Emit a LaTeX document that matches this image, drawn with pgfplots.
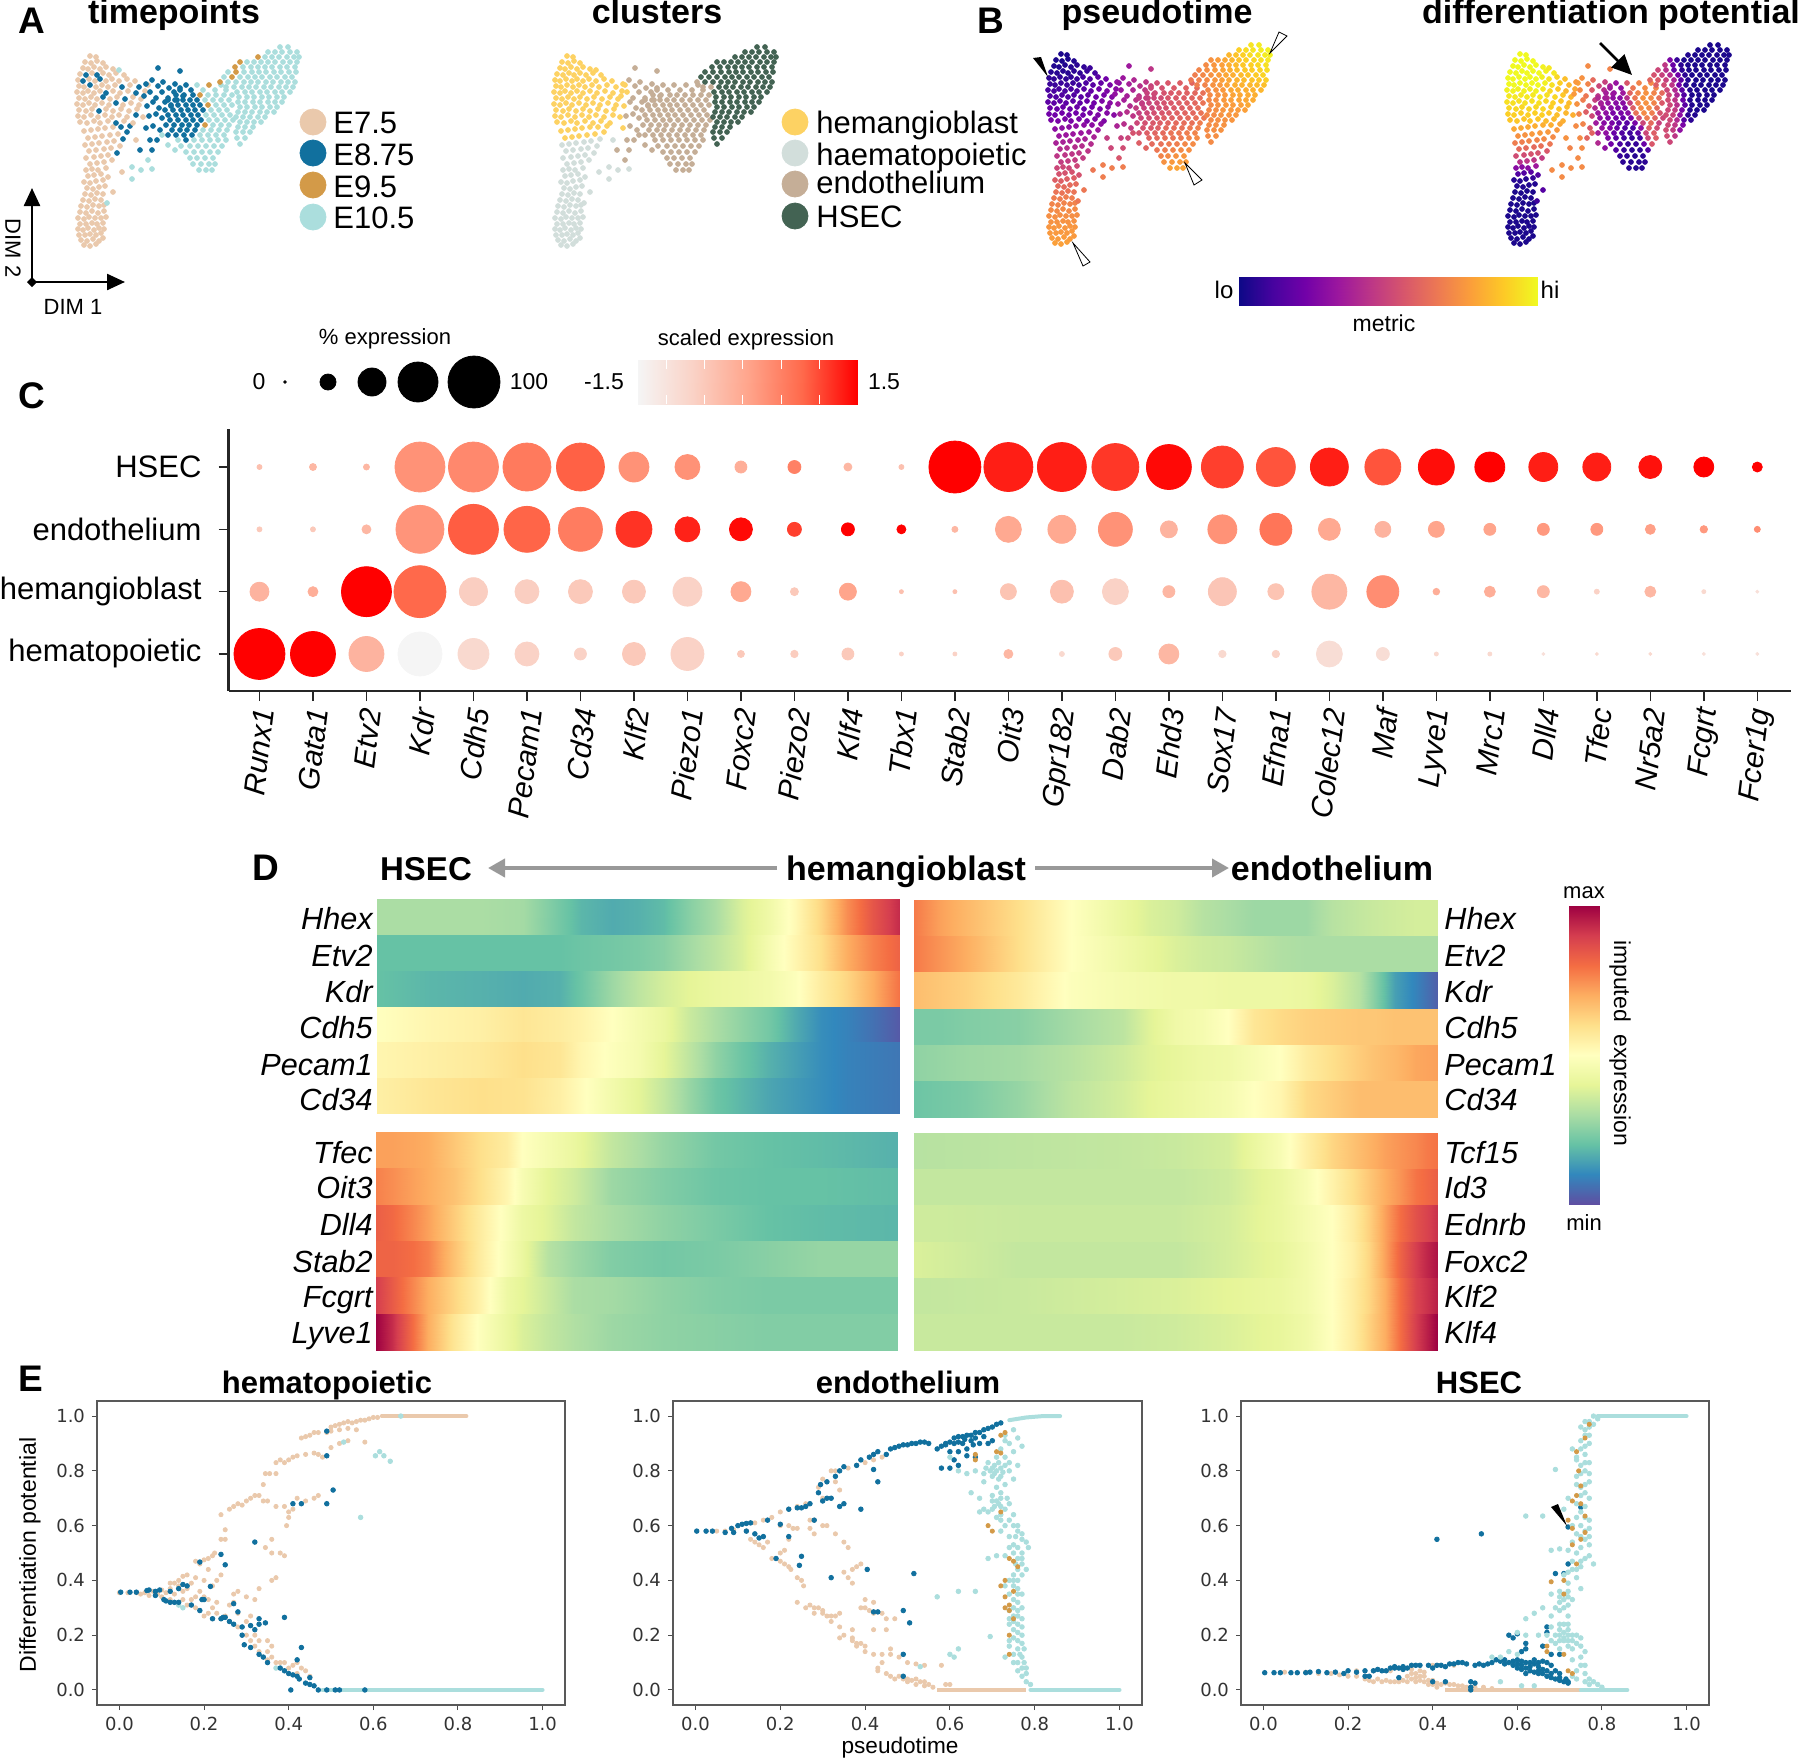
\documentclass[border=0pt]{standalone}
\usepackage{fontspec}
\usepackage{pgfplots}
\usepackage{pgfplotstable}
\pgfplotsset{compat=1.18}
\usetikzlibrary{arrows.meta}
\setmainfont{Liberation Sans}
\newfontfamily\dejavu{DejaVu Sans}
\newcommand\fs[1]{\fontsize{#1}{#1}\selectfont}
\definecolor{ctan}{HTML}{EAC9AC}
\definecolor{cblue}{HTML}{11709E}
\definecolor{corange}{HTML}{D39A48}
\definecolor{clight}{HTML}{ABDEDD}
\definecolor{chema}{HTML}{FDD263}
\definecolor{chaem}{HTML}{D2DEDB}
\definecolor{cendo}{HTML}{C5AE97}
\definecolor{chsec}{HTML}{436353}
\pgfplotsset{
 colormap={plasma}{rgb255=(13,8,135) rgb255=(70,3,159) rgb255=(114,1,168) rgb255=(156,23,158) rgb255=(189,55,134) rgb255=(216,87,107) rgb255=(237,121,83) rgb255=(251,159,58) rgb255=(253,202,38) rgb255=(240,249,33)},
 colormap={spectral}{rgb255=(94,79,162) rgb255=(50,136,189) rgb255=(102,194,165) rgb255=(171,221,164) rgb255=(230,245,152) rgb255=(255,255,191) rgb255=(254,224,139) rgb255=(253,174,97) rgb255=(244,109,67) rgb255=(213,62,79) rgb255=(158,1,66)},
 colormap={reds}{rgb255=(245,245,245) rgb255=(250,210,198) rgb255=(255,165,140) rgb255=(255,105,75) rgb255=(255,0,0)},
 place/.style n args={4}{scale only axis,anchor=north west,at={(#1*0.5pt,-#2*0.5pt)},width=#3*0.5pt,height=#4*0.5pt},
 heat/.style={hide axis,view={0}{90},xmin=0,xmax=1,ymin=0,ymax=6,zmin=-1,zmax=1,y dir=reverse,colormap name=spectral,point meta min=0,point meta max=100},
 tanp/.style={only marks,mark=*,mark size=1.05pt,color=ctan,mark options={draw=none,fill=ctan}},
 bluep/.style={only marks,mark=*,mark size=1.15pt,color=cblue,mark options={draw=none,fill=cblue}},
 orap/.style={only marks,mark=*,mark size=1.05pt,color=corange,mark options={draw=none,fill=corange}},
 ligp/.style={only marks,mark=*,mark size=1.15pt,color=clight,mark options={draw=none,fill=clight}},
 eax/.style={xmin=-0.053,xmax=1.053,ymin=-0.055,ymax=1.055,xtick={0,0.2,0.4,0.6,0.8,1},ytick={0,0.2,0.4,0.6,0.8,1},
   xtick pos=bottom,ytick pos=left,tick align=outside,major tick length=2.5pt,tick style={color=black!70,line width=0.5pt},
   axis line style={color=black!65,line width=0.8pt},
   tick label style={font=\dejavu\fs{9},color=black!80},
   /pgf/number format/.cd,fixed,fixed zerofill,precision=1,assume math mode=true},
}
% x y in panel A pixels, timepoint, cluster, pseudotime, potential
\pgfplotstableread{
x y t c p d
84 245 0 1 78 3
90 246 0 1 78 3
96 244 0 1 78 3
81 240 0 1 77 3
87 241 0 1 77 3
93 239 0 1 77 3
99 241 0 1 77 3
103 238 0 1 76 3
79 235 0 1 76 3
85 235 0 1 76 3
90 234 0 1 76 3
96 235 0 1 76 3
101 233 0 1 76 3
78 229 0 1 75 3
83 230 0 1 75 3
88 228 0 1 75 3
94 230 0 1 75 3
99 228 0 1 75 3
104 229 0 1 75 3
80 224 0 1 74 3
86 224 0 1 74 3
92 223 0 1 74 3
97 224 0 1 74 3
103 223 0 1 74 3
78 218 0 1 73 3
84 219 0 1 73 3
89 217 0 1 73 3
95 218 0 1 73 3
101 218 0 1 73 3
106 217 0 1 73 3
80 212 0 1 72 3
86 213 0 1 72 3
92 211 0 1 72 3
98 213 0 1 72 3
104 211 0 1 72 3
81 206 0 1 70 3
87 207 0 1 70 3
93 205 0 1 70 3
99 206 0 1 70 3
104 205 0 1 70 3
83 200 0 1 68 3
89 201 0 1 68 3
95 199 0 1 68 3
101 200 0 1 68 3
85 194 0 1 65 3
91 195 0 1 65 3
97 193 0 1 65 3
103 194 0 1 65 3
87 188 0 1 62 4
93 189 0 1 62 4
99 187 0 1 62 4
105 186 0 1 62 4
84 182 0 1 58 5
90 183 0 1 58 5
96 181 0 1 58 5
103 180 0 1 58 8
88 176 0 1 54 14
94 175 0 1 54 14
101 174 0 1 54 16
108 177 0 1 54 14
86 170 0 1 50 28
92 169 0 1 50 28
98 170 0 1 50 28
106 168 0 1 50 34
90 164 0 1 46 42
97 163 0 1 46 44
104 162 0 1 46 44
112 160 0 1 46 46
86 158 0 1 44 52
94 157 0 1 44 52
101 156 0 1 44 54
108 155 0 1 44 54
117 153 1 1 44 56
89 151 0 1 41 62
96 150 0 1 41 62
104 149 0 1 41 62
111 148 0 1 41 64
120 146 0 1 41 66
85 145 0 1 37 68
92 144 0 1 37 68
99 143 0 1 37 70
107 142 0 1 37 70
114 141 0 1 37 72
123 139 1 1 37 72
88 138 0 0 33 74
95 137 0 0 33 74
102 136 0 0 33 76
110 135 0 0 33 76
118 134 0 0 33 76
127 132 1 0 33 76
84 131 0 0 29 80
91 130 0 0 29 80
98 129 0 0 29 80
105 128 0 0 29 82
113 127 0 0 29 82
121 127 1 0 29 82
130 126 1 0 29 80
132 167 3 1 68 72
141 170 3 1 68 72
152 169 3 1 68 72
132 179 3 1 68 72
122 172 0 1 66 72
113 192 0 1 66 15
107 203 3 1 66 10
80 122 0 0 24 88
87 123 0 0 24 88
94 121 0 0 24 88
100 123 0 0 24 88
108 121 0 0 24 88
116 123 1 0 24 85
124 121 0 0 25 85
133 123 0 0 26 82
78 116 0 0 22 90
84 117 0 0 22 90
91 115 0 0 22 90
98 117 0 0 22 90
105 115 0 0 22 90
112 117 0 0 22 90
119 115 0 0 24 88
127 117 0 0 25 86
136 115 1 0 27 84
143 117 0 0 28 82
79 110 0 0 20 92
86 111 0 0 20 92
92 109 0 0 20 92
99 111 1 0 20 92
106 109 0 0 20 92
113 111 0 0 20 92
121 109 0 0 22 90
129 111 0 0 24 88
137 109 0 0 26 86
77 104 0 0 17 94
83 105 0 0 17 94
89 103 0 0 17 94
95 105 0 0 17 94
102 103 0 0 17 94
109 105 0 0 18 94
116 103 1 0 20 92
123 105 0 0 22 90
131 103 0 0 25 88
139 105 0 0 28 85
79 98 0 0 14 96
85 99 0 0 14 96
91 97 0 0 14 96
97 99 0 0 14 96
103 97 1 0 14 96
110 99 0 0 16 96
117 97 0 0 18 94
125 99 1 0 21 92
133 97 0 0 24 88
141 99 0 0 27 84
77 92 0 0 12 98
83 93 0 0 12 98
88 91 0 0 12 98
94 93 0 0 12 98
100 91 0 0 12 98
106 93 1 0 14 98
113 91 0 0 16 96
120 93 0 0 19 92
128 91 0 0 22 88
136 93 1 0 25 84
145 91 0 0 28 80
79 86 0 0 9 100
84 87 0 0 9 100
90 85 1 0 9 100
96 87 0 0 9 100
102 85 0 0 9 100
108 87 0 0 10 100
115 85 0 0 13 98
122 87 1 0 16 94
130 85 0 0 19 90
139 87 1 0 24 84
148 85 0 0 29 78
78 80 0 0 7 100
83 81 1 0 7 100
89 79 0 0 7 100
95 81 0 0 7 100
100 79 1 0 7 100
106 81 0 0 9 100
112 79 0 0 11 98
119 81 0 0 14 95
127 79 0 0 17 92
135 81 0 0 22 86
80 74 0 0 5 100
86 75 1 0 5 100
92 73 0 0 5 100
97 75 1 0 5 100
103 73 0 0 6 100
109 75 0 0 7 100
116 73 0 0 9 98
124 75 0 0 11 96
83 68 0 0 4 100
88 69 0 0 4 100
94 67 0 0 4 100
100 69 0 0 5 100
106 67 0 0 6 100
113 69 0 0 7 98
85 62 0 0 3 100
91 63 0 0 3 100
97 61 0 0 3 100
103 63 0 0 4 100
90 56 0 0 3 100
96 57 0 0 3 100
119 70 3 0 9 96
158 68 1 2 34 72
180 71 1 2 44 70
146 84 1 0 31 76
152 80 1 2 33 74
158 86 1 2 36 70
163 82 1 2 39 62
169 88 1 2 42 50
175 84 1 2 44 48
144 96 1 0 31 76
150 92 1 0 33 72
156 98 1 2 36 66
162 92 1 2 39 56
168 98 1 2 43 44
174 92 1 2 45 42
180 88 1 2 48 38
147 106 1 0 34 74
153 102 1 2 36 68
159 108 1 2 40 58
165 102 1 2 43 48
171 106 1 2 46 42
177 100 1 2 48 38
183 96 1 2 50 35
149 116 1 2 38 70
156 114 1 2 42 58
162 118 1 2 44 50
146 128 1 0 38 72
153 126 1 2 42 70
160 130 1 2 46 55
150 140 1 2 48 72
157 140 1 2 50 60
140 150 1 2 50 70
152 150 1 2 52 72
136 140 0 1 46 74
148 160 3 2 55 72
186 85 1 2 52 32
197 85 3 2 56 55
209 85 2 2 58 70
221 85 3 2 60 72
180 90 1 2 50 34
191 90 1 2 54 30
203 90 3 2 57 66
215 90 3 2 59 72
226 90 3 2 62 70
176 95 1 2 48 36
184 95 1 2 51 32
193 95 1 2 54 34
200 95 2 2 56 60
208 95 3 2 58 70
216 95 3 2 59 74
224 95 3 2 61 70
232 95 3 2 64 62
168 100 1 2 45 40
175 100 1 2 47 36
183 100 1 2 50 30
190 100 1 2 52 28
197 100 1 2 55 42
205 100 3 2 57 66
213 100 3 2 58 74
221 100 3 2 60 72
229 100 3 2 63 64
171 105 1 2 46 36
178 105 1 2 49 32
186 105 1 2 51 28
193 105 1 2 54 28
200 105 1 2 56 48
208 105 2 2 58 70
216 105 3 2 59 74
224 105 3 2 61 70
232 105 3 2 65 56
165 110 1 2 46 40
173 110 1 2 48 32
181 110 1 2 50 28
188 110 1 2 52 26
195 110 1 2 54 26
203 110 1 2 57 58
211 110 3 2 58 72
219 110 3 2 60 72
227 110 3 2 63 62
168 115 1 2 47 34
176 115 1 2 50 30
183 115 1 2 53 24
191 115 1 2 55 24
198 115 1 2 57 28
206 115 3 2 59 64
214 115 3 2 60 72
222 115 3 2 61 68
230 115 3 2 65 54
170 120 1 2 50 30
178 120 1 2 52 26
186 120 1 2 55 22
193 120 1 2 58 20
201 120 1 2 59 24
209 120 3 2 60 52
217 120 3 2 62 68
225 120 3 2 64 60
233 120 3 2 66 50
166 125 1 2 50 34
174 125 1 2 53 28
182 125 1 2 56 24
189 125 1 2 58 18
197 125 1 2 60 16
205 125 2 2 62 24
213 125 3 2 63 50
221 125 3 2 64 62
229 125 3 2 68 48
172 130 1 2 54 32
180 130 1 2 56 26
187 130 1 2 58 20
195 130 1 2 62 14
203 130 3 2 63 12
211 130 3 2 64 30
219 130 3 2 67 58
227 130 3 2 69 52
168 135 1 2 54 36
176 135 1 2 58 30
184 135 1 2 60 20
192 135 1 2 62 14
200 135 3 2 65 10
208 135 3 2 66 16
216 135 3 2 68 50
224 135 3 2 70 58
178 140 3 2 60 26
186 140 1 2 62 16
194 140 3 2 64 10
202 140 3 2 65 8
210 140 3 2 67 10
218 140 3 2 70 50
226 140 3 2 72 58
181 146 3 2 62 22
190 146 3 2 64 12
198 146 3 2 67 8
206 146 3 2 68 8
214 146 3 2 71 20
222 146 3 2 72 56
186 152 3 2 66 14
194 152 3 2 68 8
202 152 3 2 70 6
210 152 3 2 72 6
218 152 3 2 73 14
190 158 3 2 70 8
197 158 3 2 72 6
205 158 3 2 74 5
213 158 3 2 75 6
193 164 3 2 74 6
201 164 3 2 76 5
209 164 3 2 77 5
215 164 3 2 77 6
199 170 3 2 78 5
206 170 3 2 79 4
212 170 3 2 79 5
175 150 3 2 60 30
168 145 3 2 58 40
162 135 3 2 54 60
280 47 3 3 95 3
288 47 3 3 97 3
268 52 3 3 90 3
275 52 3 3 93 3
282 52 3 3 95 3
290 52 3 3 97 3
297 52 3 3 98 3
258 57 2 3 84 4
265 57 3 3 87 3
272 57 3 3 90 3
279 57 3 3 93 3
287 57 3 3 95 3
294 57 3 3 97 3
299 57 3 3 98 3
240 62 2 3 74 25
247 62 3 3 77 8
254 62 3 3 80 3
261 62 3 3 84 3
268 62 3 3 87 3
275 62 3 3 90 3
283 62 3 3 92 3
290 62 3 3 94 3
297 62 3 3 96 3
235 67 2 3 72 45
243 67 3 3 75 20
251 67 3 3 78 6
258 67 3 3 82 3
265 67 3 3 85 3
272 67 3 3 88 3
280 67 3 3 90 3
287 67 3 3 92 3
295 67 3 3 94 3
228 72 3 3 70 50
236 72 2 3 73 42
244 72 3 3 76 18
252 72 3 3 79 6
259 72 3 3 82 3
266 72 3 3 85 3
274 72 3 3 88 3
281 72 3 3 89 3
289 72 3 3 91 3
296 72 3 3 93 3
224 77 3 3 68 54
232 77 2 3 71 48
240 77 3 3 74 40
248 77 3 3 77 22
255 77 3 3 80 6
262 77 3 3 82 3
270 77 3 3 85 3
277 77 3 3 87 3
285 77 3 3 89 3
292 77 3 3 91 3
220 82 2 2 66 60
228 82 3 3 69 56
236 82 3 3 72 48
244 82 3 3 75 38
251 82 3 3 78 16
258 82 3 3 80 4
266 82 3 3 83 3
273 82 3 3 85 3
281 82 3 3 87 3
288 82 3 3 88 3
295 82 3 3 90 3
226 87 3 2 68 58
234 87 3 2 70 52
242 87 3 3 74 44
249 87 3 3 76 22
256 87 3 3 79 5
264 87 3 3 82 3
271 87 3 3 83 3
279 87 3 3 84 3
286 87 3 3 85 3
293 87 3 3 86 3
237 92 3 3 71 50
245 92 3 3 74 40
252 92 3 3 76 16
260 92 3 3 80 4
267 92 3 3 81 3
275 92 3 3 82 3
282 92 3 3 83 3
290 92 3 3 84 3
239 97 3 3 72 50
247 97 3 3 74 38
254 97 3 3 76 14
262 97 3 3 79 3
269 97 3 3 80 3
277 97 3 3 81 3
284 97 3 3 82 3
238 102 3 3 71 52
245 102 3 3 73 44
253 102 3 3 76 20
260 102 3 3 78 4
268 102 3 3 79 3
275 102 3 3 80 3
282 102 3 3 81 3
240 107 3 3 72 50
247 107 3 3 74 42
255 107 3 3 76 16
262 107 3 3 77 4
270 107 3 3 78 3
277 107 3 3 80 3
238 112 3 3 71 50
245 112 3 3 73 46
252 112 3 3 75 24
260 112 3 3 76 4
267 112 3 3 77 3
274 112 3 3 78 3
236 117 3 3 70 52
243 117 3 3 72 48
250 117 3 3 74 30
258 117 3 3 75 6
265 117 3 3 76 4
240 122 3 3 72 50
247 122 3 3 73 40
254 122 3 3 74 16
261 122 3 3 75 6
238 127 3 3 72 50
245 127 3 3 73 44
253 127 3 3 74 24
236 132 3 3 72 52
243 132 3 3 73 46
250 132 3 3 74 30
237 138 3 3 72 52
245 138 3 3 73 44
240 144 3 3 72 50
}\emb

% dot plot: gene index, then radius in pixels and colour for each row
\pgfplotstableread{
i rH cH rE cE rA cA rP cP
0 2.5 35 2.5 30 9.5 42 25.5 100
1 3.5 40 2.5 30 5 45 22.5 100
2 3 40 4.5 40 25 100 17.5 42
3 25 58 24 57 26 75 22 0
4 25 62 25 78 14 27 15.5 20
5 24 68 23 76 12 27 12 25
6 24 77 22 67 12 30 6 25
7 15 58 18 88 11.5 30 11.5 30
8 12.5 58 12.5 92 14.5 25 16.5 25
9 6 45 11.5 98 10 48 3.5 30
10 6.5 65 7 85 4 30 3.7 28
11 4 40 6.5 100 8.5 50 6 30
12 2.5 35 4.5 100 2 35 2 25
13 26 100 3 40 2 35 2 25
14 24.5 93 13 48 8 33 4.5 40
15 24.5 93 14 48 11.5 35 2.5 20
16 23.5 87 17 58 13 25 6.5 30
17 22.5 98 8.5 42 6 40 10 40
18 21 85 14.5 58 14 32 3.7 20
19 19.5 80 16 70 8 33 3.7 25
20 19 93 11 48 17.5 40 13 17
21 18 80 8 42 16 60 6.5 17
22 18 97 8 50 3.3 45 2 20
23 15 100 6 50 5.5 45 2 20
24 14.5 93 6 55 6 40 1.5 15
25 14 93 6 55 2.5 25 1.5 20
26 11.5 96 5 52 5.5 40 1.5 20
27 10 100 3.7 55 2 20 1.5 15
28 5 100 3 60 1.5 15 1.5 15
}\dotdata

% heat maps: position along pseudotime, then one column per gene
\pgfplotstableread{
x a b c d e f
0 30 20 20 50 53 55
0.1 30 20 18 53 55 58
0.2 30 20 17 55 57 60
0.28 29 20 16 58 60 59
0.35 22 20 17 56 58 55
0.39 18 21 21 54 53 51
0.45 16 22 28 50 49 45
0.5 17 23 33 46 46 40
0.55 19 25 37 42 40 34
0.6 25 29 40 35 33 27
0.65 30 33 42 30 26 21
0.7 38 38 43 26 21 18
0.75 44 46 45 22 17 15
0.8 52 53 49 16 14 13
0.85 62 60 56 11 11 11
0.9 75 70 62 9 9 9
0.95 85 77 70 6 8 8
1 93 82 79 2 7 7
}\hAraw
\pgfplotstableread{
x a b c d e f
0 78 78 67 23 26 21
0.05 72 74 65 23 27 22
0.1 68 70 63 24 28 23
0.2 60 60 57 25 29 27
0.3 50 50 49 29 32 33
0.4 42 44 46 33 36 37
0.45 38 41 45 39 39 40
0.5 36 38 44 44 41 42
0.55 32 36 44 46 43 44
0.6 30 35 43 50 44 46
0.65 28 33 43 58 47 50
0.7 28 31 43 61 50 53
0.75 28 30 42 63 56 61
0.8 32 30 38 64 60 64
0.85 34 30 32 65 64 67
0.88 35 30 25 65 66 67
0.92 36 30 14 66 68 67
0.96 37 30 9 66 71 67
1 37 30 3 66 72 67
}\hBraw
\pgfplotstableread{
x a b c d e f
0 72 77 83 82 90 100
0.03 72 75 81 82 84 93
0.07 71 72 76 80 76 80
0.1 70 70 72 77 70 70
0.15 65 66 64 66 62 58
0.2 60 60 56 56 54 49
0.25 56 53 48 47 43 42
0.28 50 47 43 42 40 38
0.33 46 40 39 32 35 34
0.38 42 36 34 28 30 31
0.45 34 28 30 24 29 28
0.55 27 24 26 22 26 26
0.65 22 21 23 23 24 25
0.75 20 20 20 25 23 24
0.85 19 20 19 27 23 24
1 17 19 18 27 23 24
}\hCraw
\pgfplotstableread{
x a b c d e f
0 32 34 36 38 34 35
0.2 33 34 35 34 35 35
0.4 34 34 35 34 37 35
0.5 35 34 35 34 38 36
0.6 37 36 37 37 40 38
0.7 47 42 42 41 42 41
0.75 55 47 46 45 45 44
0.8 62 54 50 50 50 50
0.84 66 60 56 55 56 56
0.87 69 65 63 62 62 63
0.9 72 70 72 72 70 70
0.93 74 74 80 82 80 80
0.96 76 79 86 90 89 90
0.98 78 81 89 94 92 95
1 79 83 92 97 95 100
}\hDraw
\pgfplotstablevertcat{\hA}{\hAraw}\pgfplotstablevertcat{\hA}{\hAraw}
\pgfplotstablevertcat{\hB}{\hBraw}\pgfplotstablevertcat{\hB}{\hBraw}
\pgfplotstablevertcat{\hC}{\hCraw}\pgfplotstablevertcat{\hC}{\hCraw}
\pgfplotstablevertcat{\hD}{\hDraw}\pgfplotstablevertcat{\hD}{\hDraw}
% corners of the colour bars
\pgfplotstableread{
x y m n
0 0 0 0
1 0 100 0
0 1 0 100
1 1 100 100
}\barcorners

\newcommand\hmrow[4]{\addplot3[surf,shader=interp,mesh/cols=#2,point meta=\thisrow{#3}] table[x=x,y expr={(\coordindex<#2?#4:#4+1)},z expr=0] {#1};}
\newcommand\hmall[2]{\hmrow{#1}{#2}{a}{0}\hmrow{#1}{#2}{b}{1}\hmrow{#1}{#2}{c}{2}\hmrow{#1}{#2}{d}{3}\hmrow{#1}{#2}{e}{4}\hmrow{#1}{#2}{f}{5}}
\newcommand\dotrow[3]{\addplot[scatter,only marks,mark=*,point meta=\thisrow{#2},scatter/use mapped color={draw=mapped color,fill=mapped color},visualization depends on={0.5*\thisrow{#1} \as \rad},scatter/@pre marker code/.append style={/tikz/mark size=\rad}] table[x=i,y expr=#3] {\dotdata};}
\newcommand\gradh[2]{\addplot3[surf,shader=interp,mesh/cols=2,colormap name=#1,point meta=\thisrow{#2}] table[x=x,y=y,z expr=0] {\barcorners};}

\begin{document}
\begin{tikzpicture}[x=0.5pt,y=-0.5pt]
\useasboundingbox (0,0) rectangle (1800,1761);

% panels A and B share one canvas axis in pixel units
\begin{axis}[place={0}{0}{1800}{1761},hide axis,xmin=0,xmax=1800,ymin=0,ymax=1761,y dir=reverse,clip=false,point meta min=0,point meta max=100]
\addplot[scatter,only marks,mark=*,mark size=1.2pt,scatter src=explicit symbolic,
 scatter/classes={0={mark=*,draw=ctan,fill=ctan},1={mark=*,draw=cblue,fill=cblue},2={mark=*,draw=corange,fill=corange},3={mark=*,draw=clight,fill=clight}}]
 table[x=x,y=y,meta=t] {\emb};
\addplot[scatter,only marks,mark=*,mark size=1.2pt,scatter src=explicit symbolic,
 scatter/classes={0={mark=*,draw=chema,fill=chema},1={mark=*,draw=chaem,fill=chaem},2={mark=*,draw=cendo,fill=cendo},3={mark=*,draw=chsec,fill=chsec}}]
 table[x expr=\thisrow{x}+477,y=y,meta=c] {\emb};
\addplot[scatter,only marks,mark=*,mark size=1.2pt,colormap name=plasma,point meta=\thisrow{p},scatter/use mapped color={draw=mapped color,fill=mapped color}]
 table[x expr=\thisrow{x}+971,y expr=\thisrow{y}-2] {\emb};
\addplot[scatter,only marks,mark=*,mark size=1.2pt,colormap name=plasma,point meta=\thisrow{d},scatter/use mapped color={draw=mapped color,fill=mapped color}]
 table[x expr=\thisrow{x}+1430,y expr=\thisrow{y}-2] {\emb};
% legends
\addplot[only marks,mark=*,mark size=6.5pt,color=ctan,mark options={draw=none,fill=ctan}] coordinates {(313,122)};
\addplot[only marks,mark=*,mark size=6.5pt,color=cblue,mark options={draw=none,fill=cblue}] coordinates {(313,153)};
\addplot[only marks,mark=*,mark size=6.5pt,color=corange,mark options={draw=none,fill=corange}] coordinates {(313,185)};
\addplot[only marks,mark=*,mark size=6.5pt,color=clight,mark options={draw=none,fill=clight}] coordinates {(313,217)};
\addplot[only marks,mark=*,mark size=6.5pt,color=chema,mark options={draw=none,fill=chema}] coordinates {(795,122)};
\addplot[only marks,mark=*,mark size=6.5pt,color=chaem,mark options={draw=none,fill=chaem}] coordinates {(795,153)};
\addplot[only marks,mark=*,mark size=6.5pt,color=cendo,mark options={draw=none,fill=cendo}] coordinates {(795,184)};
\addplot[only marks,mark=*,mark size=6.5pt,color=chsec,mark options={draw=none,fill=chsec}] coordinates {(795,216)};
% size legend of the dot plot
\addplot[only marks,mark=*,mark size=0.7pt,black] coordinates {(285,382)};
\addplot[only marks,mark=*,mark size=4pt,black] coordinates {(328,382)};
\addplot[only marks,mark=*,mark size=7pt,black] coordinates {(372,382)};
\addplot[only marks,mark=*,mark size=10pt,black] coordinates {(418,382)};
\addplot[only marks,mark=*,mark size=13pt,black] coordinates {(474,382)};
\end{axis}

% colour bars
\begin{axis}[place={1239}{277}{298}{28},hide axis,view={0}{90},xmin=0,xmax=1,ymin=0,ymax=1,zmin=-1,zmax=1,point meta min=0,point meta max=100]
\gradh{plasma}{m}
\end{axis}
\begin{axis}[place={638}{360}{219}{44},hide axis,view={0}{90},xmin=0,xmax=1,ymin=0,ymax=1,zmin=-1,zmax=1,point meta min=0,point meta max=100]
\gradh{reds}{m}
\end{axis}
\foreach \q in {666,704,742,781,819} {
 \draw[white,line width=0.5pt] (\q,360) -- (\q,369);
 \draw[white,line width=0.5pt] (\q,395) -- (\q,404);
}
\begin{axis}[place={1569}{906}{30}{298},hide axis,view={0}{90},xmin=0,xmax=1,ymin=0,ymax=1,zmin=-1,zmax=1,point meta min=0,point meta max=100]
\gradh{spectral}{n}
\end{axis}

% panel C
\begin{axis}[place={228.5}{429}{1562.5}{262},
 xmin=-0.579,xmax=28.63,ymin=-0.594,ymax=3.61,
 axis x line*=bottom,axis y line*=left,axis line style={line width=1.2pt,color=black!85,-},
 xtick={0,...,28},ytick={0,1,2,3},tick align=outside,major tick length=5pt,tick style={line width=0.8pt,color=black!85},
 xticklabels={Runx1,Gata1,Etv2,Kdr,Cdh5,Pecam1,Cd34,Klf2,Piezo1,Foxc2,Piezo2,Klf4,Tbx1,Stab2,Oit3,Gpr182,Dab2,Ehd3,Sox17,Efna1,Colec12,Maf,Lyve1,Mrc1,Dll4,Tfec,Nr5a2,Fcgrt,Fcer1g},
 yticklabels={hematopoietic,hemangioblast,endothelium,HSEC},
 xticklabel style={font=\fs{15}\itshape,rotate=83,anchor=east,yshift=-3pt},
 yticklabel style={font=\fs{15.5},xshift=-5pt},
 colormap name=reds,point meta min=0,point meta max=100,clip=false]
\dotrow{rP}{cP}{0}
\dotrow{rA}{cA}{1}
\dotrow{rE}{cE}{2}
\dotrow{rH}{cH}{3}
\end{axis}

% panel D
\begin{axis}[place={377}{899}{522}{215},heat]\hmall{\hA}{18}\end{axis}
\begin{axis}[place={914}{900}{523}{217},heat]\hmall{\hB}{19}\end{axis}
\begin{axis}[place={376}{1132}{522}{218},heat]\hmall{\hC}{16}\end{axis}
\begin{axis}[place={914}{1133}{523}{217},heat]\hmall{\hD}{15}\end{axis}

% panel E
\begin{axis}[place={97}{1401}{468}{304},eax]
\addplot[ctan,line width=2pt,line cap=round,forget plot] coordinates {(0.62,1)(0.82,1)};
\addplot[clight,line width=2pt,line cap=round,forget plot] coordinates {(0.48,0)(1,0)};
\addplot[tanp] coordinates {(0,0.355)(0.02,0.355)(0.04,0.355)(0.06,0.355)(0.08,0.36)(0.1,0.365)(0.12,0.37)(0.13,0.39)(0.14,0.4)(0.15,0.415)(0.16,0.42)(0.17,0.39)(0.18,0.41)(0.18,0.47)(0.19,0.46)(0.2,0.475)(0.21,0.48)(0.22,0.49)(0.225,0.5)(0.24,0.55)(0.25,0.55)(0.25,0.585)(0.24,0.64)(0.26,0.66)(0.27,0.67)(0.28,0.68)(0.29,0.675)(0.3,0.69)(0.31,0.7)(0.32,0.71)(0.33,0.71)(0.34,0.69)(0.35,0.69)(0.34,0.75)(0.345,0.79)(0.355,0.79)(0.37,0.79)(0.37,0.83)(0.38,0.84)(0.39,0.83)(0.4,0.84)(0.41,0.85)(0.42,0.855)(0.44,0.86)(0.46,0.865)(0.47,0.86)(0.48,0.85)(0.43,0.92)(0.45,0.93)(0.47,0.94)(0.49,0.94)(0.5,0.96)(0.51,0.965)(0.52,0.97)(0.53,0.975)(0.54,0.98)(0.55,0.975)(0.56,0.98)(0.57,0.985)(0.58,0.985)(0.59,0.99)(0.6,0.995)(0.61,0.995)(0.44,0.925)(0.46,0.94)(0.5,0.945)(0.52,0.95)(0.54,0.955)(0.56,0.95)(0.5,0.885)(0.52,0.9)(0.54,0.91)(0.58,0.905)(0.42,0.7)(0.44,0.69)(0.46,0.7)(0.47,0.71)(0.39,0.67)(0.37,0.67)(0.4,0.65)(0.41,0.66)(0.395,0.6)(0.4,0.63)(0.36,0.55)(0.345,0.52)(0.36,0.5)(0.38,0.5)(0.39,0.49)(0.36,0.4)(0.37,0.41)(0.33,0.37)(0.3,0.34)(0.32,0.33)(0.27,0.35)(0.28,0.36)(0.26,0.31)(0.27,0.32)(0.1,0.34)(0.12,0.33)(0.14,0.32)(0.16,0.31)(0.18,0.3)(0.2,0.27)(0.22,0.26)(0.24,0.26)(0.26,0.25)(0.28,0.23)(0.3,0.2)(0.31,0.18)(0.32,0.16)(0.33,0.14)(0.35,0.11)(0.37,0.1)(0.38,0.1)(0.4,0.08)(0.42,0.06)(0.42,0.1)(0.43,0.08)(0.44,0.07)(0.45,0.05)(0.35,0.18)(0.36,0.16)(0.33,0.18)(0.35,0.14)(0.23,0.4)(0.24,0.42)(0.21,0.44)(0.2,0.4)(0.22,0.38)(0.19,0.36)(0.21,0.33)(0.22,0.3)(0.23,0.32)(0.28,0.28)(0.3,0.25)(0.31,0.27)(0.2,0.34)(0.18,0.34)(0.15,0.36)(0.16,0.37)(0.05,0.35)(0.07,0.345)(0.09,0.35)(0.11,0.355)(0.13,0.35)(0.14,0.38)(0.12,0.39)(0.15,0.33)(0.17,0.33)(0.21,0.28)(0.23,0.28)(0.25,0.27)(0.32,0.2)(0.34,0.12)(0.36,0.12)(0.39,0.1)(0.41,0.09)};
\addplot[ligp] coordinates {(0.53,0.905)(0.57,0.63)(0.605,0.855)(0.615,0.87)(0.625,0.855)(0.64,0.835)(0.665,1)(0.37,0.08)(0.14,0.31)(0.15,0.3)};
\addplot[bluep] coordinates {(0.003,0.357)(0.025,0.357)(0.04,0.357)(0.065,0.363)(0.07,0.365)(0.085,0.36)(0.095,0.365)(0.085,0.345)(0.105,0.33)(0.11,0.325)(0.12,0.32)(0.13,0.32)(0.14,0.32)(0.12,0.36)(0.14,0.37)(0.15,0.385)(0.16,0.38)(0.17,0.31)(0.19,0.29)(0.19,0.467)(0.195,0.33)(0.2,0.33)(0.215,0.378)(0.22,0.26)(0.24,0.26)(0.245,0.265)(0.25,0.265)(0.26,0.25)(0.27,0.24)(0.27,0.315)(0.28,0.285)(0.29,0.23)(0.29,0.2)(0.295,0.165)(0.31,0.235)(0.31,0.155)(0.32,0.22)(0.32,0.54)(0.33,0.24)(0.33,0.26)(0.33,0.13)(0.34,0.12)(0.345,0.245)(0.35,0.1)(0.24,0.495)(0.25,0.457)(0.39,0.265)(0.38,0.08)(0.39,0.07)(0.4,0.06)(0.41,0.055)(0.42,0.05)(0.425,0.04)(0.42,0.11)(0.43,0.155)(0.45,0.045)(0.44,0.025)(0.45,0.02)(0.46,0.015)(0.405,0)(0.41,0.68)(0.43,0.68)(0.49,0.68)(0.505,0.73)(0.49,0.855)(0.49,0.945)(0.47,0)(0.49,0)(0.51,0)(0.52,0)(0.58,0)};
\end{axis}

\begin{axis}[place={673}{1401}{469}{304},eax]
\addplot[ctan,line width=2pt,forget plot] coordinates {(0.57,0)(0.78,0)};
\addplot[clight,line width=2pt,line cap=round,forget plot] coordinates {(0.79,0)(1,0)};
\addplot[clight,line width=2pt,line cap=round,forget plot] coordinates {(0.74,0.985)(0.78,0.995)(0.82,1)(0.86,1)};
\addplot[tanp] coordinates {(0.05,0.58)(0.07,0.58)(0.09,0.585)(0.12,0.58)(0.14,0.61)(0.16,0.62)(0.18,0.63)(0.2,0.65)(0.22,0.66)(0.24,0.67)(0.26,0.68)(0.13,0.55)(0.15,0.53)(0.17,0.54)(0.14,0.54)(0.16,0.52)(0.18,0.48)(0.2,0.47)(0.21,0.46)(0.22,0.45)(0.225,0.44)(0.2,0.5)(0.21,0.51)(0.2,0.6)(0.22,0.6)(0.23,0.59)(0.22,0.55)(0.24,0.59)(0.27,0.62)(0.28,0.62)(0.27,0.59)(0.3,0.6)(0.31,0.6)(0.28,0.57)(0.33,0.57)(0.35,0.54)(0.36,0.52)(0.24,0.41)(0.25,0.4)(0.255,0.38)(0.24,0.32)(0.26,0.3)(0.27,0.31)(0.28,0.3)(0.28,0.28)(0.3,0.28)(0.31,0.27)(0.32,0.27)(0.33,0.27)(0.34,0.28)(0.32,0.25)(0.34,0.23)(0.35,0.2)(0.34,0.19)(0.37,0.19)(0.38,0.17)(0.39,0.17)(0.38,0.16)(0.37,0.22)(0.39,0.3)(0.4,0.3)(0.41,0.29)(0.42,0.28)(0.44,0.28)(0.45,0.26)(0.47,0.26)(0.4,0.33)(0.42,0.32)(0.45,0.22)(0.42,0.22)(0.38,0.45)(0.35,0.43)(0.37,0.44)(0.39,0.46)(0.36,0.41)(0.37,0.39)(0.4,0.14)(0.42,0.13)(0.44,0.13)(0.46,0.13)(0.48,0.12)(0.46,0.15)(0.44,0.1)(0.43,0.08)(0.43,0.07)(0.46,0.05)(0.48,0.05)(0.5,0.04)(0.52,0.04)(0.54,0.03)(0.55,0.02)(0.56,0.01)(0.5,0.1)(0.52,0.095)(0.54,0.09)(0.58,0.09)(0.59,0.02)(0.6,0.02)(0.3,0.77)(0.32,0.8)(0.33,0.8)(0.36,0.81)(0.38,0.82)(0.4,0.83)(0.42,0.84)(0.44,0.85)(0.29,0.74)(0.3,0.7)(0.34,0.73)(0.33,0.76)(0.47,0.04)(0.49,0.04)(0.51,0.035)(0.53,0.03)(0.45,0.06)(0.5,0.03)(0.52,0.02)(0.54,0.015)(0.4,0.16)(0.37,0.18)(0.29,0.3)(0.3,0.29)};
\addplot[bluep] coordinates {(0.003,0.58)(0.025,0.58)(0.04,0.58)(0.07,0.575)(0.085,0.59)(0.09,0.575)(0.1,0.6)(0.11,0.605)(0.12,0.608)(0.13,0.61)(0.12,0.58)(0.14,0.57)(0.15,0.555)(0.16,0.56)(0.17,0.62)(0.19,0.48)(0.2,0.605)(0.22,0.56)(0.22,0.66)(0.24,0.665)(0.25,0.665)(0.26,0.67)(0.27,0.68)(0.28,0.62)(0.25,0.488)(0.245,0.455)(0.29,0.72)(0.295,0.75)(0.31,0.76)(0.3,0.69)(0.31,0.7)(0.32,0.7)(0.32,0.41)(0.33,0.78)(0.34,0.8)(0.35,0.815)(0.34,0.67)(0.35,0.68)(0.38,0.82)(0.39,0.84)(0.41,0.85)(0.42,0.86)(0.43,0.87)(0.42,0.805)(0.43,0.76)(0.39,0.66)(0.45,0.86)(0.46,0.88)(0.47,0.885)(0.48,0.89)(0.49,0.895)(0.5,0.895)(0.51,0.9)(0.52,0.9)(0.53,0.905)(0.54,0.905)(0.55,0.9)(0.57,0.88)(0.58,0.89)(0.59,0.9)(0.6,0.905)(0.61,0.92)(0.62,0.925)(0.63,0.925)(0.64,0.93)(0.65,0.93)(0.66,0.94)(0.67,0.94)(0.68,0.95)(0.69,0.955)(0.7,0.96)(0.71,0.97)(0.72,0.975)(0.6,0.87)(0.62,0.87)(0.64,0.855)(0.58,0.81)(0.6,0.81)(0.62,0.82)(0.61,0.84)(0.66,0.85)(0.67,0.9)(0.69,0.9)(0.7,0.91)(0.63,0.9)(0.65,0.91)(0.59,0.895)(0.61,0.9)(0.62,0.905)(0.635,0.915)(0.66,0.92)(0.68,0.925)(0.64,0.88)(0.655,0.895)(0.405,0.44)(0.515,0.425)(0.42,0.285)(0.43,0.285)(0.49,0.29)(0.505,0.245)(0.49,0.13)(0.49,0.05)};
\addplot[ligp] coordinates {(0.73,0.93)(0.75,0.95)(0.74,0.9)(0.75,0.87)(0.76,0.82)(0.7,0.81)(0.71,0.8)(0.72,0.81)(0.69,0.83)(0.73,0.82)(0.74,0.8)(0.72,0.78)(0.7,0.78)(0.71,0.85)(0.68,0.79)(0.66,0.8)(0.64,0.79)(0.62,0.8)(0.6,0.85)(0.68,0.76)(0.71,0.74)(0.72,0.72)(0.7,0.71)(0.71,0.69)(0.72,0.67)(0.74,0.68)(0.7,0.66)(0.69,0.65)(0.65,0.72)(0.67,0.7)(0.68,0.66)(0.67,0.65)(0.72,0.64)(0.74,0.62)(0.75,0.6)(0.73,0.6)(0.76,0.58)(0.72,0.58)(0.74,0.56)(0.77,0.55)(0.78,0.54)(0.75,0.53)(0.74,0.52)(0.77,0.5)(0.76,0.48)(0.73,0.49)(0.71,0.49)(0.69,0.48)(0.77,0.46)(0.76,0.44)(0.75,0.42)(0.78,0.44)(0.74,0.4)(0.75,0.38)(0.76,0.37)(0.73,0.38)(0.77,0.35)(0.75,0.33)(0.77,0.3)(0.74,0.29)(0.76,0.27)(0.75,0.25)(0.77,0.23)(0.74,0.24)(0.76,0.21)(0.75,0.19)(0.77,0.17)(0.74,0.16)(0.76,0.15)(0.75,0.13)(0.73,0.12)(0.77,0.12)(0.76,0.1)(0.77,0.08)(0.78,0.06)(0.77,0.05)(0.78,0.03)(0.79,0.02)(0.62,0.36)(0.66,0.36)(0.57,0.34)(0.6,0.13)(0.61,0.12)(0.62,0.15)(0.695,0.195)(0.53,0.085)(0.705,0.82)(0.715,0.83)(0.725,0.795)(0.695,0.8)(0.705,0.79)(0.715,0.77)(0.685,0.81)(0.73,0.85)(0.74,0.83)(0.72,0.88)(0.73,0.91)(0.76,0.92)(0.77,0.89)(0.75,0.77)(0.73,0.75)(0.7,0.69)(0.715,0.68)(0.705,0.67)(0.72,0.7)(0.73,0.66)(0.735,0.7)(0.72,0.62)(0.71,0.63)(0.75,0.64)(0.76,0.6)(0.77,0.57)(0.755,0.56)(0.76,0.52)(0.75,0.5)(0.785,0.52)(0.77,0.48)(0.755,0.46)(0.77,0.42)(0.76,0.4)(0.75,0.4)(0.76,0.35)(0.74,0.35)(0.76,0.32)(0.75,0.3)(0.76,0.29)(0.75,0.27)(0.77,0.26)(0.74,0.26)(0.76,0.24)(0.75,0.22)(0.77,0.2)(0.76,0.18)(0.74,0.18)(0.765,0.13)(0.75,0.1)(0.775,0.15)(0.76,0.07)(0.775,0.1)(0.78,0.08)};
\addplot[orap] coordinates {(0.72,0.93)(0.73,0.94)(0.71,0.87)(0.72,0.865)(0.66,0.86)(0.66,0.84)(0.72,0.65)(0.69,0.6)(0.7,0.58)(0.74,0.48)(0.75,0.47)(0.76,0.45)(0.73,0.4)(0.72,0.38)(0.75,0.36)(0.73,0.34)(0.74,0.31)(0.73,0.3)(0.74,0.29)(0.75,0.26)(0.74,0.2)(0.74,0.13)};
\end{axis}

\begin{axis}[place={1241}{1401}{468}{304},eax]
\addplot[ctan,line width=2pt,forget plot] coordinates {(0.43,0)(0.75,0)};
\addplot[clight,line width=2pt,line cap=round,forget plot] coordinates {(0.75,0)(0.86,0)};
\addplot[clight,line width=2pt,line cap=round,forget plot] coordinates {(0.79,1)(1,1)};
\addplot[tanp] coordinates {(0.05,0.065)(0.1,0.065)(0.13,0.06)(0.16,0.06)(0.18,0.055)(0.2,0.05)(0.22,0.05)(0.24,0.04)(0.26,0.03)(0.28,0.03)(0.3,0.03)(0.32,0.03)(0.34,0.05)(0.35,0.04)(0.36,0.03)(0.37,0.05)(0.38,0.03)(0.39,0.02)(0.4,0.02)(0.41,0.01)(0.42,0.02)(0.44,0.02)(0.46,0.015)(0.48,0.01)(0.36,0.06)(0.34,0.03)(0.5,0.01)(0.22,0.07)(0.26,0.07)(0.3,0.07)(0.35,0.09)(0.4,0.09)(0.45,0.09)(0.25,0.035)(0.27,0.04)(0.29,0.035)(0.31,0.03)(0.33,0.035)(0.35,0.06)(0.36,0.045)(0.37,0.035)(0.38,0.05)(0.39,0.035)(0.4,0.035)(0.41,0.025)(0.43,0.025)(0.45,0.02)(0.47,0.015)(0.52,0.01)(0.54,0.005)(0.37,0.07)(0.38,0.065)(0.35,0.075)};
\addplot[bluep] coordinates {(0.003,0.063)(0.025,0.063)(0.04,0.063)(0.065,0.063)(0.08,0.063)(0.1,0.063)(0.11,0.065)(0.13,0.067)(0.15,0.063)(0.17,0.065)(0.19,0.06)(0.2,0.07)(0.22,0.065)(0.24,0.07)(0.25,0.05)(0.26,0.07)(0.28,0.07)(0.29,0.07)(0.3,0.08)(0.31,0.08)(0.32,0.045)(0.32,0.08)(0.33,0.075)(0.34,0.08)(0.35,0.09)(0.39,0.09)(0.4,0.08)(0.41,0.09)(0.42,0.09)(0.43,0.085)(0.44,0.095)(0.46,0.1)(0.47,0.1)(0.5,0.09)(0.52,0.09)(0.53,0.095)(0.54,0.1)(0.55,0.11)(0.57,0.11)(0.58,0.1)(0.59,0.09)(0.6,0.08)(0.61,0.075)(0.63,0.07)(0.65,0.06)(0.67,0.05)(0.69,0.04)(0.71,0.03)(0.72,0.025)(0.6,0.11)(0.62,0.1)(0.64,0.11)(0.66,0.105)(0.68,0.09)(0.61,0.09)(0.63,0.085)(0.65,0.085)(0.67,0.07)(0.64,0.065)(0.66,0.075)(0.7,0.06)(0.7,0.035)(0.58,0.2)(0.59,0.19)(0.6,0.205)(0.62,0.17)(0.62,0.15)(0.61,0.14)(0.66,0.16)(0.67,0.23)(0.67,0.21)(0.68,0.13)(0.7,0.13)(0.71,0.425)(0.69,0.425)(0.72,0.46)(0.75,0.667)(0.72,0.595)(0.41,0.55)(0.515,0.57)(0.4,0.03)(0.43,0.03)(0.49,0.03)(0.49,0.01)(0.5,0.025)(0.24,0.05)(0.49,0)(0.27,0.075)(0.31,0.085)(0.33,0.085)(0.36,0.09)(0.37,0.09)(0.45,0.095)(0.48,0.095)(0.51,0.095)(0.56,0.105)(0.6,0.095)(0.62,0.08)(0.63,0.1)(0.65,0.1)(0.67,0.1)(0.65,0.07)(0.66,0.06)(0.68,0.06)(0.69,0.07)(0.68,0.045)(0.7,0.045)(0.62,0.06)(0.61,0.105)(0.57,0.095)(0.59,0.105)(0.64,0.095)(0.72,0.03)(0.715,0.04)};
\addplot[ligp] coordinates {(0.78,1)(0.79,0.99)(0.76,0.98)(0.77,0.96)(0.76,0.93)(0.75,0.91)(0.77,0.9)(0.75,0.88)(0.76,0.86)(0.73,0.88)(0.74,0.85)(0.77,0.83)(0.75,0.82)(0.76,0.8)(0.74,0.78)(0.77,0.76)(0.75,0.74)(0.69,0.805)(0.76,0.72)(0.72,0.7)(0.74,0.68)(0.71,0.66)(0.62,0.635)(0.66,0.635)(0.76,0.63)(0.73,0.6)(0.75,0.6)(0.77,0.59)(0.74,0.57)(0.76,0.55)(0.77,0.53)(0.72,0.51)(0.7,0.515)(0.68,0.51)(0.74,0.5)(0.76,0.48)(0.78,0.46)(0.75,0.45)(0.73,0.44)(0.71,0.42)(0.74,0.41)(0.72,0.39)(0.75,0.37)(0.7,0.36)(0.68,0.35)(0.72,0.34)(0.7,0.32)(0.71,0.3)(0.73,0.33)(0.66,0.3)(0.64,0.28)(0.62,0.26)(0.72,0.27)(0.7,0.24)(0.68,0.23)(0.71,0.21)(0.69,0.2)(0.73,0.2)(0.75,0.19)(0.7,0.18)(0.67,0.2)(0.65,0.2)(0.62,0.2)(0.6,0.21)(0.72,0.16)(0.74,0.17)(0.7,0.15)(0.68,0.18)(0.75,0.12)(0.73,0.11)(0.76,0.09)(0.74,0.07)(0.76,0.06)(0.78,0.03)(0.8,0.01)(0.77,0.02)(0.56,0.03)(0.61,0.015)(0.64,0.015)(0.56,0.12)(0.54,0.12)(0.58,0.14)(0.6,0.13)(0.77,0.98)(0.78,0.97)(0.75,0.96)(0.76,0.95)(0.77,0.93)(0.76,0.89)(0.74,0.84)(0.76,0.83)(0.75,0.79)(0.77,0.79)(0.74,0.75)(0.76,0.75)(0.75,0.71)(0.77,0.7)(0.76,0.67)(0.75,0.65)(0.74,0.63)(0.77,0.62)(0.76,0.58)(0.75,0.56)(0.73,0.54)(0.77,0.56)(0.75,0.52)(0.77,0.49)(0.73,0.47)(0.75,0.47)(0.72,0.43)(0.74,0.44)(0.72,0.36)(0.71,0.35)(0.7,0.34)(0.71,0.33)(0.72,0.31)(0.69,0.3)(0.7,0.29)(0.68,0.27)(0.72,0.24)(0.71,0.24)(0.7,0.22)(0.72,0.22)(0.7,0.2)(0.71,0.19)(0.72,0.2)(0.71,0.18)(0.73,0.18)(0.69,0.17)(0.72,0.18)(0.74,0.2)(0.75,0.16)(0.73,0.15)(0.76,0.14)(0.75,0.09)(0.74,0.04)(0.76,0.03)(0.77,0.04)(0.73,0.05)(0.79,0.02)};
\addplot[orap] coordinates {(0.77,0.97)(0.76,0.92)(0.74,0.87)(0.745,0.8)(0.75,0.745)(0.74,0.71)(0.73,0.69)(0.75,0.68)(0.76,0.635)(0.72,0.62)(0.73,0.59)(0.76,0.575)(0.75,0.55)(0.73,0.53)(0.74,0.46)(0.71,0.4)(0.68,0.395)(0.71,0.35)(0.67,0.16)(0.67,0.14)(0.71,0.13)(0.72,0.07)(0.73,0.06)};
\end{axis}

% letters and titles
\foreach \t/\q/\r in {A/32/33,B/991/33,C/32/408,D/266/880,E/31/1391}
 \node[anchor=base,font=\fs{18.5}\bfseries,inner sep=0pt] at (\q,\r) {\t};
\foreach \t/\q in {timepoints/174,clusters/657,pseudotime/1157,differentiation potential/1611}
 \node[anchor=base,font=\fs{17}\bfseries,inner sep=0pt] at (\q,24) {\t};
\foreach \t/\r in {E7.5/133,E8.75/165,E9.5/197,E10.5/228}
 \node[anchor=base west,font=\fs{15.5},inner sep=0pt] at (333,\r) {\t};
\foreach \t/\r in {hemangioblast/133,haematopoietic/165,endothelium/193,HSEC/227}
 \node[anchor=base west,font=\fs{15.5},inner sep=0pt] at (816,\r) {\t};
% axis cross
\draw[line width=1.2pt,-{Triangle[length=9pt,width=8pt]}] (32,282) -- (32,188);
\draw[line width=1.2pt,-{Triangle[length=9pt,width=8pt]}] (32,282) -- (125,282);
\fill (32,277) -- (37,282) -- (32,287) -- (27,282) -- cycle;
\node[font=\fs{11}] at (73,307) {DIM 1};
\node[font=\fs{11},rotate=-90] at (13,248) {DIM 2};
% wedges
\fill (1048,77) -- (1033,58) -- (1041,57) -- cycle;
\draw[line width=0.4pt,fill=white] (1270,53) -- (1279,32) -- (1287,36) -- cycle;
\draw[line width=0.4pt,fill=white] (1185,163) -- (1194,185) -- (1202,180) -- cycle;
\draw[line width=0.4pt,fill=white] (1073,243) -- (1083,266) -- (1090,262) -- cycle;
\draw[line width=1.4pt,-{Triangle[length=10pt,width=9pt]}] (1600,43) -- (1632,75);
% colour bar text
\node[font=\fs{12}] at (1224,290) {lo};
\node[font=\fs{12}] at (1550,290) {hi};
\node[font=\fs{11.5}] at (1384,323) {metric};
\node[font=\fs{11}] at (385,339) {\% expression};
\node[font=\fs{11}] at (746,340) {scaled expression};
\node[font=\fs{11.5}] at (259,382) {0};
\node[font=\fs{11.5}] at (529,382) {100};
\node[font=\fs{11.5}] at (604,382) {-1.5};
\node[font=\fs{11.5}] at (884,382) {1.5};
% panel D text
\node[anchor=base,font=\fs{16.5}\bfseries] at (426,880) {HSEC};
\node[anchor=base,font=\fs{17}\bfseries] at (906,880) {hemangioblast};
\node[anchor=base,font=\fs{17}\bfseries] at (1332,880) {endothelium};
\draw[black!40,line width=2pt,-{Triangle[length=8.5pt,width=9pt]}] (777,868) -- (488,868);
\draw[black!40,line width=2pt,-{Triangle[length=8.5pt,width=9pt]}] (1035,868) -- (1229,868);
\foreach \t/\r in {Hhex/929,Etv2/966,Kdr/1002,Cdh5/1038,Pecam1/1075,Cd34/1110,Tfec/1163,Oit3/1198,Dll4/1235,Stab2/1272,Fcgrt/1307,Lyve1/1343}
 \node[anchor=base east,font=\fs{15.3}\itshape,inner sep=0pt] at (373,\r) {\t};
\foreach \t/\r in {Hhex/929,Etv2/966,Kdr/1002,Cdh5/1038,Pecam1/1075,Cd34/1110,Tcf15/1163,Id3/1198,Ednrb/1235,Foxc2/1272,Klf2/1307,Klf4/1343}
 \node[anchor=base west,font=\fs{15.3}\itshape,inner sep=0pt] at (1444,\r) {\t};
\node[font=\fs{11}] at (1584,893) {max};
\node[font=\fs{11}] at (1584,1223) {min};
\node[font=\fs{11.5},rotate=-90] at (1620,1043) {imputed\ \ expression};
% panel E text
\node[anchor=base,font=\fs{15.5}\bfseries] at (327,1393) {hematopoietic};
\node[anchor=base,font=\fs{15.5}\bfseries] at (908,1393) {endothelium};
\node[anchor=base,font=\fs{15.5}\bfseries] at (1479,1393) {HSEC};
\node[font=\fs{11.5},rotate=90] at (30,1555) {Differentiation potential};
\node[font=\fs{11.3}] at (900,1748) {pseudotime};
\fill (1567,1526) -- (1551,1507) -- (1558,1504) -- cycle;
\end{tikzpicture}
\end{document}
